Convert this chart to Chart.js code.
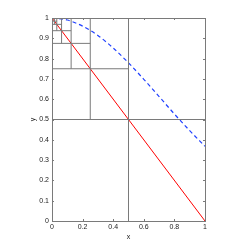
<!DOCTYPE html>
<html>
<head>
<meta charset="utf-8">
<script src="https://cdn.jsdelivr.net/npm/chart.js@4"></script>
<style>
  body { margin: 0; background: #fff; }
  canvas { display: block; }
</style>
</head>
<body>
<canvas id="c" width="249" height="249"></canvas>
<script>
// valeurs
const curveX = [0, 0.1, 0.2, 0.3, 0.4, 0.5, 0.6, 0.7, 0.8, 0.9, 1];
const curveY = [1, 0.99, 0.96, 0.914, 0.852, 0.779, 0.698, 0.613, 0.527, 0.445, 0.368];
const lineX = [0, 1];
const lineY = [1, 0];

// segments des carres emboites [x1, y1, x2, y2]
const boxSegs = [
  [0.5, 0, 0.5, 1], [0, 0.5, 1, 0.5],
  [0.25, 0.5, 0.25, 1], [0, 0.75, 0.5, 0.75],
  [0.125, 0.75, 0.125, 1], [0, 0.875, 0.25, 0.875],
  [0.0625, 0.875, 0.0625, 1], [0, 0.9375, 0.125, 0.9375],
  [0.03125, 0.9375, 0.03125, 1], [0, 0.96875, 0.0625, 0.96875],
  [0.015625, 0.96875, 0.015625, 1], [0, 0.984375, 0.03125, 0.984375]
];
const topSeg = [0, 1, 0.5, 1];

const xTicks = [0, 0.2, 0.4, 0.6, 0.8, 1];
const yTicks = [0, 0.1, 0.2, 0.3, 0.4, 0.5, 0.6, 0.7, 0.8, 0.9, 1];

const FONT = { family: "'Liberation Sans Narrow', 'Liberation Sans', Arial, sans-serif", size: 7 };

const datasets = boxSegs.map((s) => ({
  data: [{ x: s[0], y: s[1] }, { x: s[2], y: s[3] }],
  borderColor: "#7a7a7a",
  borderWidth: 1,
  pointRadius: 0,
  showLine: true,
}));

datasets.push({
  data: [{ x: topSeg[0], y: topSeg[1] }, { x: topSeg[2], y: topSeg[3] }],
  borderColor: "#000",
  borderWidth: 2,
  pointRadius: 0,
  showLine: true,
});

datasets.push({
  data: lineX.map((x, i) => ({ x, y: lineY[i] })),
  borderColor: "#ff0000",
  borderWidth: 1,
  pointRadius: 0,
  showLine: true,
});

datasets.push({
  data: curveX.map((x, i) => ({ x, y: curveY[i] })),
  borderColor: "#2040ff",
  borderWidth: 1.2,
  borderDash: [4, 3],
  pointRadius: 0,
  showLine: true,
  tension: 0.4,
  cubicInterpolationMode: "monotone",
});

// cadre + petites graduations vers l'interieur
const frame = {
  id: "frame",
  afterDatasetsDraw(chart) {
    const { ctx } = chart;
    const xs = chart.scales.x, ys = chart.scales.y;
    const l = xs.getPixelForValue(0), r = xs.getPixelForValue(1);
    const b = ys.getPixelForValue(0), t = ys.getPixelForValue(1);
    ctx.save();
    ctx.strokeStyle = "#7a7a7a";
    ctx.lineWidth = 1;
    ctx.strokeRect(Math.round(l) + 0.5, Math.round(t) + 0.5, Math.round(r - l), Math.round(b - t));
    ctx.beginPath();
    for (const v of xTicks) {
      const p = Math.round(xs.getPixelForValue(v)) + 0.5;
      ctx.moveTo(p, b); ctx.lineTo(p, b - 2);
      ctx.moveTo(p, t); ctx.lineTo(p, t + 2);
    }
    for (const v of yTicks) {
      const p = Math.round(ys.getPixelForValue(v)) + 0.5;
      ctx.moveTo(l, p); ctx.lineTo(l + 2, p);
      ctx.moveTo(r, p); ctx.lineTo(r - 2, p);
    }
    ctx.stroke();
    ctx.restore();
  },
};

new Chart(document.getElementById("c"), {
  type: "scatter",
  data: { datasets },
  plugins: [frame],
  options: {
    responsive: false,
    animation: false,
    layout: { padding: { left: 0, right: 44, top: 18, bottom: 0 } },
    plugins: { legend: { display: false }, tooltip: { enabled: false } },
    scales: {
      x: {
        type: "linear",
        min: 0,
        max: 1,
        afterBuildTicks: (s) => { s.ticks = xTicks.map((v) => ({ value: v })); },
        afterFit: (s) => { s.height = 28; },
        grid: { display: false, drawTicks: false },
        border: { display: false },
        ticks: { font: FONT, color: "#222", padding: 2, maxRotation: 0,
          callback: (v) => String(v) },
        title: { display: true, text: "x", font: FONT, color: "#222", padding: { top: 0, bottom: 8 } },
      },
      y: {
        type: "linear",
        min: 0,
        max: 1,
        afterBuildTicks: (s) => { s.ticks = yTicks.map((v) => ({ value: v })); },
        afterFit: (s) => { s.width = 52; },
        grid: { display: false, drawTicks: false },
        border: { display: false },
        ticks: { font: FONT, color: "#222", padding: 3,
          callback: (v) => String(Math.round(v * 10) / 10) },
        title: { display: true, text: "y", font: FONT, color: "#222", padding: { top: 29, bottom: 0 } },
      },
    },
  },
});
</script>
</body>
</html>
